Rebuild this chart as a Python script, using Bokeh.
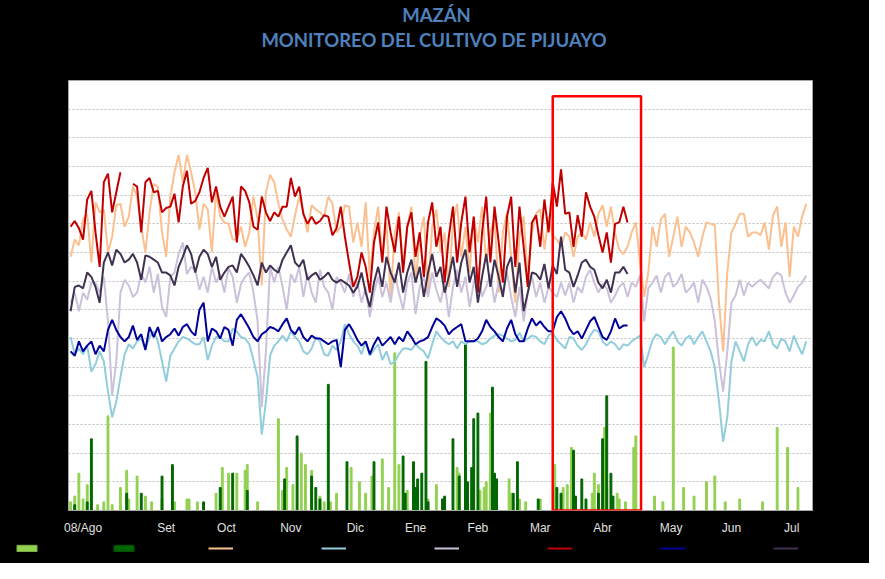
import math
from bokeh.plotting import figure
from bokeh.layouts import column
from bokeh.models import (Range1d, FixedTicker, SingleIntervalTicker, BoxAnnotation,
                          Label, Legend, LegendItem, ColumnDataSource)
from bokeh.core.properties import value
from bokeh.embed import file_html
from bokeh.resources import INLINE

NaN = float("nan")

# ---- time axis: days since 08/Ago/2020 (values read every 2 days) ----
hist_days = list(range(0, 356, 2))   # historical series, whole season
cur_days = list(range(0, 270, 2))    # current season, up to mid-April

month_ticks = [6, 46, 75, 106, 137, 166, 196, 226, 256, 289, 318, 347]
month_labels = ["08/Ago", "Set", "Oct", "Nov", "Dic", "Ene", "Feb", "Mar", "Abr", "May", "Jun", "Jul"]

# ---- temperatures (°C) ----
tmax_hist = [27.7, 28.9, 28.5, 30.3, 30.7, 27.3, 31.5, 30.8, 31.0, 28.0,
             29.1, 31.3, 31.4, 29.8, 30.5, 32.6, 31.9, 29.8, 28.0, 30.8,
             32.8, 32.6, 29.4, 27.7, 31.9, 33.6, 34.8, 32.9, 34.8, 33.6,
             32.2, 29.6, 31.4, 31.0, 28.0, 32.2, 30.5, 30.1, 30.0, 28.9,
             28.9, 29.8, 28.4, 29.4, 31.9, 30.3, 25.7, 32.2, 33.4, 32.9,
             31.4, 30.3, 29.6, 29.1, 30.6, 31.9, 30.8, 29.4, 31.3, 31.0,
             30.8, 30.5, 31.9, 31.4, 29.4, 29.8, 31.3, 31.2, 28.7, 30.1,
             28.4, 31.5, 26.3, 29.4, 31.2, 27.7, 30.1, 24.9, 29.4, 30.8,
             27.0, 29.8, 31.2, 25.9, 29.1, 30.5, 25.2, 29.8, 31.0, 28.0,
             29.4, 25.6, 30.1, 31.4, 27.7, 29.8, 26.6, 30.5, 28.7, 31.2,
             27.3, 29.4, 30.5, 25.2, 29.4, 30.8, 27.7, 24.5, 29.1, 30.5,
             26.3, 29.4, 30.7, 31.0, 28.2, 30.5, 29.2, 28.9, 28.4, 29.4,
             29.1, 27.7, 29.1, 29.4, 28.9, 30.1, 29.1, 30.7, 31.3, 29.8,
             31.2, 29.4, 28.2, 27.9, 28.4, 29.4, 30.1, 27.3, 24.9, 26.6,
             29.8, 28.4, 30.3, 30.7, 27.7, 29.1, 30.5, 28.4, 29.8, 29.4,
             28.7, 27.7, 29.1, 30.1, 30.0, 29.9, 24.5, 21.1, 26.6, 29.4,
             30.0, 30.7, 30.7, 29.1, 29.4, 29.4, 29.2, 30.1, 28.2, 30.6,
             31.2, 28.4, 30.1, 26.3, 29.8, 29.1, 30.5, 31.4]

tmin_hist = [22.1, 20.9, 21.3, 20.9, 21.5, 19.7, 20.2, 21.1, 20.4, 18.3,
             16.5, 17.6, 19.3, 20.9, 21.6, 21.3, 21.8, 22.0, 21.3, 22.1,
             22.5, 21.8, 20.4, 19.0, 20.8, 21.3, 21.8, 22.1, 22.0, 21.8,
             21.6, 21.6, 22.1, 20.5, 21.5, 22.1, 22.1, 21.8, 21.8, 22.7,
             22.5, 22.1, 22.0, 21.6, 20.5, 19.3, 15.3, 17.6, 20.8, 21.5,
             21.8, 22.2, 21.8, 22.5, 22.1, 21.8, 21.1, 20.9, 21.3, 22.1,
             21.8, 20.9, 20.8, 21.5, 21.2, 21.8, 23.0, 22.3, 21.8, 21.5,
             20.9, 21.8, 20.8, 21.2, 21.6, 20.5, 21.1, 20.2, 20.4, 20.9,
             21.3, 21.3, 21.2, 21.6, 21.3, 21.1, 20.6, 21.6, 22.5, 22.1,
             21.8, 21.6, 21.8, 21.3, 21.8, 21.6, 21.8, 21.8, 21.8, 21.6,
             21.7, 22.0, 22.2, 22.3, 22.2, 22.0, 21.8, 21.9, 22.4, 21.8,
             22.0, 22.2, 22.1, 21.8, 21.6, 22.2, 22.4, 21.9, 21.6, 21.3,
             22.1, 22.0, 21.5, 21.2, 21.6, 22.2, 22.6, 22.5, 21.8, 21.5,
             21.8, 21.6, 21.2, 21.6, 21.5, 21.8, 22.0, 22.2, 20.0, 20.9,
             21.9, 22.3, 22.1, 21.6, 22.1, 22.5, 21.8, 21.5, 22.0, 22.2,
             21.6, 22.1, 22.5, 21.8, 21.1, 20.0, 17.6, 14.8, 16.5, 20.4,
             21.8, 21.1, 20.4, 21.6, 22.1, 21.5, 21.9, 21.8, 22.5, 21.6,
             21.3, 22.0, 21.8, 21.1, 22.2, 21.5, 20.9, 21.8]

tmed_hist = [24.5, 25.2, 23.9, 25.2, 24.7, 25.9, 25.9, 25.2, 26.3, 23.2,
             18.0, 20.4, 25.2, 26.1, 25.7, 24.9, 25.2, 26.5, 25.9, 27.0,
             25.2, 26.5, 24.2, 23.5, 26.3, 26.6, 27.9, 28.7, 26.5, 27.0,
             26.8, 25.4, 26.3, 25.2, 27.0, 25.9, 26.5, 25.2, 26.9, 26.3,
             24.5, 25.8, 26.3, 26.6, 25.2, 23.2, 17.2, 21.1, 27.0, 25.9,
             27.0, 25.6, 24.0, 26.5, 25.9, 27.0, 24.9, 26.5, 25.2, 24.5,
             26.8, 25.6, 25.2, 24.0, 26.3, 25.9, 25.2, 26.5, 24.9, 25.9,
             24.5, 25.6, 23.5, 25.2, 26.3, 24.9, 25.9, 24.5, 26.5, 25.2,
             24.0, 25.9, 26.6, 23.7, 25.6, 26.3, 24.9, 26.6, 25.4, 24.5,
             25.9, 23.5, 25.6, 26.8, 25.2, 26.3, 24.2, 25.9, 27.0, 24.9,
             25.6, 26.5, 24.5, 25.9, 25.2, 26.6, 24.9, 23.5, 25.6, 23.2,
             25.2, 26.3, 24.9, 25.9, 24.5, 25.6, 25.2, 24.9, 25.9, 25.0,
             25.9, 24.5, 25.6, 25.2, 26.3, 26.8, 25.9, 25.2, 25.8, 25.5,
             24.5, 25.0, 25.6, 25.9, 24.9, 25.9, 25.6, 26.4, 23.2, 25.5,
             25.9, 26.4, 25.2, 26.3, 26.6, 25.6, 25.9, 26.5, 25.2, 25.5,
             25.9, 24.5, 26.1, 25.6, 24.8, 23.2, 20.4, 18.3, 21.1, 24.5,
             25.0, 26.1, 25.0, 25.9, 25.6, 25.9, 26.1, 25.8, 25.5, 26.3,
             26.6, 26.4, 25.2, 24.5, 25.0, 25.6, 25.9, 26.4]

tmax_cur = [29.8, 30.2, 29.7, 28.9, 31.7, 32.3, 29.4, 27.0, 32.9, 33.5,
            30.8, 32.2, 33.6, NaN, NaN, 32.8, 32.6, 29.4, 32.9, 33.2,
            32.2, 32.3, 30.8, 31.1, 31.2, 32.1, 30.1, 32.6, 33.7, 31.4,
            31.6, 32.2, 33.2, 33.9, 31.5, 32.6, 31.2, 30.5, 31.2, 31.9,
            28.7, 32.6, 32.3, 31.5, 29.8, 29.6, 31.9, 30.8, 30.2, 30.8,
            30.5, 31.2, 31.2, 33.2, 31.9, 32.6, 30.7, 30.0, 30.5, 30.0,
            30.2, 30.6, 30.5, 29.2, 29.7, 31.2, 29.1, 27.3, 25.6, 26.3,
            28.0, 27.0, 25.2, 28.7, 30.1, 27.3, 31.2, 29.4, 28.0, 30.5,
            26.6, 29.8, 30.8, 27.7, 29.4, 26.3, 30.1, 31.5, 28.4, 29.8,
            25.9, 29.1, 31.2, 27.3, 30.1, 31.9, 28.0, 30.5, 25.2, 29.4,
            31.9, 27.3, 31.2, 28.7, 25.9, 30.5, 31.9, 27.0, 31.2, 28.4,
            25.6, 30.1, 30.6, 28.4, 31.7, 29.4, 32.9, 31.2, 33.8, 30.7,
            30.8, 28.4, 30.6, 29.1, 32.2, 31.2, 30.5, 29.2, 28.0, 29.4,
            27.3, 30.0, 30.1, 31.2, 30.1]

tmin_cur = [21.1, 20.8, 21.8, 21.1, 21.5, 21.8, 20.9, 21.5, 21.1, 22.6,
            23.3, 22.6, 22.1, 21.8, 22.1, 22.9, 21.9, 22.3, 21.2, 22.8,
            22.1, 22.8, 21.8, 22.1, 22.3, 22.7, 22.2, 22.8, 23.0, 22.5,
            22.2, 24.0, 24.5, 21.8, 22.7, 22.5, 22.0, 22.8, 22.6, 21.5,
            23.3, 23.7, 23.2, 22.7, 22.1, 21.8, 22.3, 22.5, 22.8, 22.7,
            22.5, 23.0, 23.4, 22.6, 22.3, 22.8, 22.1, 21.8, 22.2, 22.0,
            22.0, 21.8, 21.6, 21.8, 21.9, 20.0, 22.6, 23.0, 22.5, 21.9,
            21.5, 21.8, 20.9, 21.6, 22.1, 21.5, 21.8, 22.1, 21.6, 22.1,
            21.8, 22.5, 22.1, 21.6, 21.8, 21.9, 22.1, 22.8, 23.4, 23.2,
            22.9, 22.3, 22.6, 22.8, 23.0, 21.8, 21.8, 21.8, 22.0, 22.5,
            23.3, 22.8, 22.5, 22.1, 21.8, 22.7, 23.3, 22.3, 21.8, 21.8,
            22.7, 23.4, 22.9, 23.2, 22.8, 22.5, 22.5, 23.5, 23.9, 23.4,
            22.7, 22.3, 22.5, 22.0, 22.6, 23.2, 23.5, 22.8, 22.1, 21.9,
            22.5, 23.4, 22.7, 22.9, 22.9]

tmed_cur = [23.9, 25.6, 25.7, 25.5, 26.6, 26.3, 25.6, 24.5, 27.3, 28.0,
            27.1, 28.2, 27.9, 27.3, 27.5, 27.9, 27.3, 26.1, 27.8, 27.7,
            27.5, 27.3, 26.6, 26.6, 26.4, 25.7, 27.0, 27.7, 28.5, 27.9,
            26.6, 27.7, 28.2, 27.9, 27.0, 27.7, 26.1, 26.6, 27.0, 27.1,
            26.6, 27.9, 27.5, 27.0, 26.4, 25.7, 27.3, 26.6, 27.1, 26.8,
            26.6, 27.5, 28.0, 28.5, 27.3, 27.0, 27.5, 26.1, 26.4, 26.6,
            26.1, 26.3, 26.6, 26.1, 25.9, 26.1, 25.9, 25.7, 25.2, 25.6,
            26.6, 25.2, 24.2, 25.9, 27.0, 25.6, 27.7, 26.6, 25.9, 27.3,
            25.2, 26.6, 27.5, 25.9, 27.0, 24.9, 26.6, 27.9, 26.3, 27.0,
            25.2, 26.3, 27.7, 25.6, 27.3, 28.2, 25.9, 27.0, 24.5, 26.3,
            27.9, 25.6, 27.5, 26.3, 24.9, 27.0, 27.7, 25.2, 27.3, 23.9,
            25.2, 26.6, 26.5, 26.1, 27.2, 25.5, 27.1, 26.5, 29.1, 26.8,
            26.6, 25.6, 26.4, 27.3, 27.5, 27.0, 26.8, 25.9, 25.5, 26.1,
            25.2, 26.6, 26.6, 27.0, 26.5]

# ---- daily precipitation (mm), rainy days only ----
pp_hist_days = [0, 2, 4, 6, 8, 10, 13, 16, 18, 20, 24, 27, 28, 32, 36, 39, 44, 50, 56, 57,
                61, 70, 73, 76, 80, 84, 85, 90, 100, 102, 104, 107, 111, 113, 116, 120, 122,
                125, 128, 135, 139, 142, 145, 150, 153, 156, 158, 162, 165, 172, 176, 179,
                186, 187, 190, 197, 199, 200, 202, 211, 212, 216, 219, 226, 233, 237, 239,
                241, 251, 252, 254, 257, 258, 263, 264, 267, 271, 272, 281, 285, 290, 295,
                300, 306, 310, 315, 322, 333, 340, 345, 350]
pp_hist = [3, 5, 13, 4, 9, 10, 2, 3, 33, 2, 8, 14, 4, 12, 5, 3, 4, 3, 4, 4,
           3, 6, 15, 13, 13, 14, 16, 3, 32, 7, 15, 9, 20, 16, 14, 5, 3,
           3, 6, 15, 10, 6, 12, 18, 8, 55, 16, 7, 10, 4, 9, 4,
           15, 13, 19, 7, 8, 10, 34, 11, 6, 4, 3, 4, 16, 8, 9,
           22, 6, 13, 9, 29, 8, 6, 4, 3, 22, 26, 5, 3, 57, 8,
           5, 10, 12, 3, 4, 3, 29, 22, 8]

pp_cur_days = [2, 8, 10, 27, 34, 44, 49, 64, 72, 78, 85, 103, 109, 116, 118, 120, 124, 133,
               146, 160, 161, 165, 166, 167, 169, 171, 172, 179, 180, 184, 187, 190, 191,
               193, 194, 196, 203, 204, 205, 213, 215, 225, 234, 236, 242, 243, 246, 248,
               254, 256, 258, 260, 261]
pp_cur = [2, 3, 25, 6, 6, 12, 16, 3, 8, 13, 7, 11, 26, 12, 8, 4, 44, 17,
          17, 19, 6, 17, 8, 11, 13, 52, 3, 4, 5, 25, 12, 58, 10,
          15, 32, 34, 43, 13, 11, 6, 17, 4, 8, 6, 21, 5, 11, 4,
          6, 25, 40, 13, 5]

# highlighted period (days) of the red box
box_start, box_end = 232, 274.5

title_lines = ["MAZÁN", "MONITOREO  DEL CULTIVO DE PIJUAYO"]

# styles
C_PP_HIST, C_PP_CUR = "#92D050", "#006600"
C_TX_H, C_TN_H, C_TM_H = "#FAC090", "#92CDDC", "#CCC1DA"
C_TX_C, C_TN_C, C_TM_C = "#C00000", "#000099", "#403151"
W = 869


def bare(fig):
    fig.axis.visible = False
    fig.grid.visible = False
    fig.outline_line_color = None
    fig.title.visible = False


# ---- title strip ----
pt = figure(width=W, height=80, output_backend="svg", toolbar_location=None,
            x_range=Range1d(0, W), y_range=Range1d(0, 80),
            background_fill_color="black", border_fill_color="black",
            min_border=0, frame_align=False)
bare(pt)
for txt, ty in zip(title_lines, [66, 41]):
    pt.add_layout(Label(x=436, y=ty, text=txt, text_align="center", text_baseline="middle",
                        text_color="#4F81BD", text_font="Lato", text_font_style="bold",
                        text_font_size="18.5px"))

# ---- main chart ----
p = figure(width=W, height=457, output_backend="svg", toolbar_location=None,
           x_range=Range1d(-1, 357), y_range=Range1d(10, 40),
           background_fill_color="white", border_fill_color="black",
           min_border_left=68, min_border_right=57, min_border_top=0, min_border_bottom=26,
           outline_line_color="#A6A6A6")
p.title.visible = False
p.extra_y_ranges = {"pp": Range1d(0, 150)}

p.yaxis.visible = False
p.xgrid.visible = False
p.ygrid.ticker = SingleIntervalTicker(interval=2)
p.ygrid.grid_line_color = "#BFBFBF"
p.ygrid.grid_line_dash = "2 2"

ax = p.xaxis[0]
ax.ticker = FixedTicker(ticks=month_ticks)
ax.major_label_overrides = {t: l for t, l in zip(month_ticks, month_labels)}
ax.major_tick_line_color = None
ax.minor_tick_line_color = None
ax.axis_line_color = "#A6A6A6"
ax.major_label_text_color = "#E0E0E0"
ax.major_label_text_font = "Liberation Sans"
ax.major_label_text_font_size = "12px"
ax.major_label_standoff = 4

src_ph = ColumnDataSource(dict(x=pp_hist_days, top=pp_hist))
src_pc = ColumnDataSource(dict(x=pp_cur_days, top=pp_cur))

p.vbar(x="x", top="top", bottom=0, width=0.9, source=src_ph, y_range_name="pp",
       fill_color=C_PP_HIST, line_color=C_PP_HIST)
p.vbar(x="x", top="top", bottom=0, width=0.9, source=src_pc, y_range_name="pp",
       fill_color=C_PP_CUR, line_color=C_PP_CUR)

p.line(hist_days, tmax_hist, line_color=C_TX_H, line_width=2)
p.line(hist_days, tmin_hist, line_color=C_TN_H, line_width=2)
p.line(hist_days, tmed_hist, line_color=C_TM_H, line_width=2)
p.line(cur_days, tmax_cur, line_color=C_TX_C, line_width=2)
p.line(cur_days, tmin_cur, line_color=C_TN_C, line_width=2)
p.line(cur_days, tmed_cur, line_color=C_TM_C, line_width=2)

p.add_layout(BoxAnnotation(left=box_start, right=box_end, bottom=10, top=38.9,
                           fill_alpha=0, line_color="#FF0000", line_alpha=1, line_width=2.5))

# ---- legend strip (labels are not legible in the original) ----
pl = figure(width=W, height=26, output_backend="svg", toolbar_location=None,
            x_range=Range1d(0, 1), y_range=Range1d(0, 1),
            background_fill_color="black", border_fill_color="black",
            min_border=0, frame_align=False)
bare(pl)
# legend-only proxies, placed outside the visible range
proxy_bar = dict(x=[-5], top=[-5])
lr = [pl.vbar(x="x", top="top", width=1, source=ColumnDataSource(proxy_bar),
              fill_color=C_PP_HIST, line_color="#7FB24A"),
      pl.vbar(x="x", top="top", width=1, source=ColumnDataSource(proxy_bar),
              fill_color=C_PP_CUR, line_color="#005000")]
for c in [C_TX_H, C_TN_H, C_TM_H, C_TX_C, C_TN_C, C_TM_C]:
    lr.append(pl.line(x=[-5, -4], y=[-5, -5], line_color=c, line_width=2))

legend_style = dict(orientation="horizontal", glyph_width=25, glyph_height=8, label_height=8,
                    label_width=0, label_standoff=0, label_text_font_size="6px", padding=0,
                    margin=0, background_fill_alpha=0, border_line_alpha=0)
# first group (precipitation bars + first line), second group (remaining lines)
for group, loc, gap in [(lr[:3], (14, 11), 72), (lr[3:], (321, 11), 88)]:
    pl.add_layout(Legend(items=[LegendItem(label=value(""), renderers=[r]) for r in group],
                         location=loc, spacing=gap, **legend_style))

layout = column(pt, p, pl, spacing=0, styles={"background-color": "black"})
open("out.html", "w").write(file_html(layout, INLINE))
